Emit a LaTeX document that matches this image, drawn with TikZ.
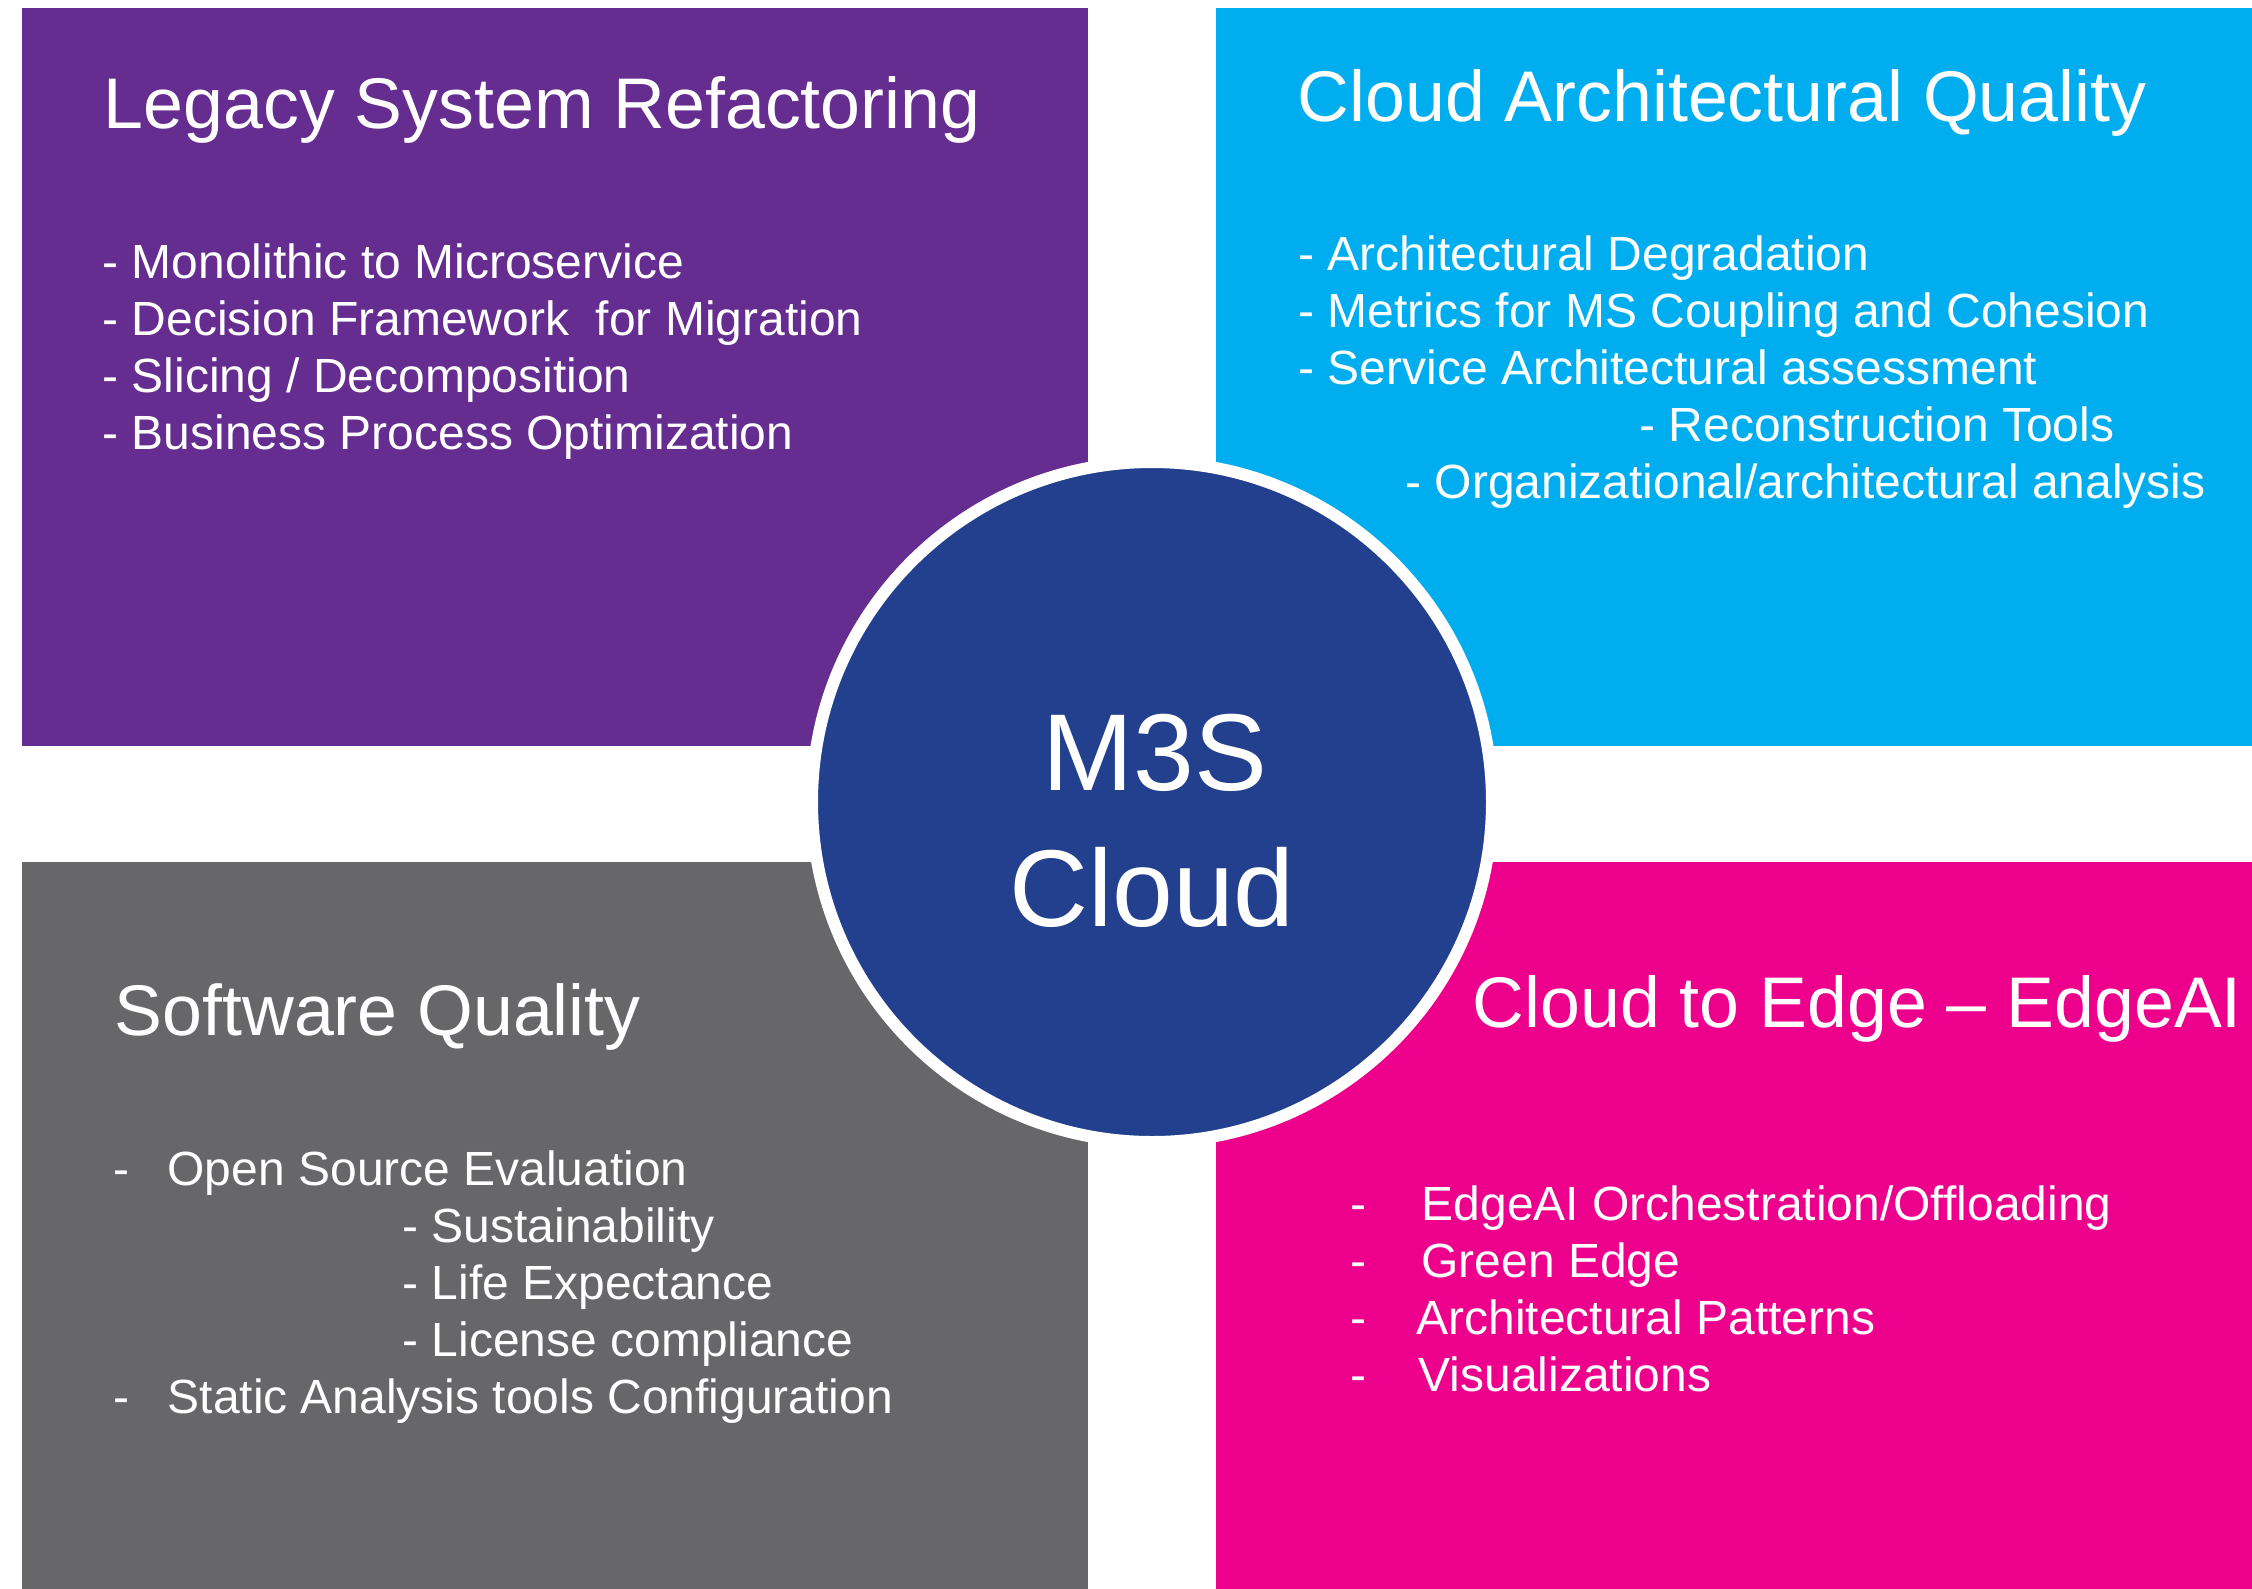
\documentclass[tikz,border=0pt]{standalone}
\usepackage{fontspec}
\setmainfont{Liberation Sans}
\usepackage{xcolor}
\usetikzlibrary{positioning}

\definecolor{legacyc}{RGB}{102,45,145}
\definecolor{archc}{RGB}{0,174,239}
\definecolor{qualc}{RGB}{103,103,105}
\definecolor{edgec}{RGB}{236,0,140}
\definecolor{hubc}{RGB}{35,64,142}

\begin{document}
\begin{tikzpicture}[
  x=0.1mm, y=-0.1mm,
  title/.style={anchor=base west,inner sep=0pt,text=white,font=\fontsize{20.4}{24}\selectfont},
  item/.style={anchor=base west,inner sep=0pt,text=white,font=\fontsize{13.65}{16.2}\selectfont},
  hub/.style={circle,fill=hubc,draw=white,line width=1.2mm,minimum size=68mm,inner sep=0pt},
  hubtxt/.style={anchor=base,inner sep=0pt,text=white,font=\fontsize{31.1}{37}\selectfont}
]
\useasboundingbox (0,0) rectangle (2252,1589);

% four quadrants
\fill[legacyc] (22,8) rectangle (1088,746);
\fill[archc] (1216,8) rectangle (2252,746);
\fill[qualc] (22,862) rectangle (1088,1589);
\fill[edgec] (1216,862) rectangle (2252,1589);

% top left
\node[title] (legacy) at (103,128) {Legacy System Refactoring};
\node[item] (leg1) at (102,278) {- Monolithic to Microservice};
\node[item] (leg2) at (102,335) {- Decision Framework \ for Migration};
\node[item] (leg3) at (102,392) {- Slicing / Decomposition};
\node[item] (leg4) at (102,449) {- Business Process Optimization};

% top right
\node[title] (arch) at (1297,121) {Cloud Architectural Quality};
\node[item] (arch1) at (1298,270) {- Architectural Degradation};
\node[item] (arch2) at (1298,327) {- Metrics for MS Coupling and Cohesion};
\node[item] (arch3) at (1298,384) {- Service Architectural assessment};
\node[item] (arch4) at (1639,441) {- Reconstruction Tools};
\node[item] (arch5) at (1405,498) {- Organizational/architectural analysis};

% bottom left
\node[title] (qual) at (114,1035) {Software Quality};
\node[item] (qual1) at (113,1185) {\makebox[5.4mm][l]{-}Open Source Evaluation};
\node[item] (qual2) at (402,1242) {- Sustainability};
\node[item] (qual3) at (402,1299) {- Life Expectance};
\node[item] (qual4) at (402,1356) {- License compliance};
\node[item] (qual5) at (113,1413) {\makebox[5.4mm][l]{-}Static Analysis tools Configuration};

% bottom right
\node[title] (edge) at (1472,1027) {Cloud to Edge -- EdgeAI};
\node[item] (edge1) at (1350,1220) {\makebox[7.1mm][l]{-}EdgeAI Orchestration/Offloading};
\node[item] (edge2) at (1350,1277) {\makebox[7.1mm][l]{-}Green Edge};
\node[item] (edge3) at (1350,1334) {\makebox[6.6mm][l]{-}Architectural Patterns};
\node[item] (edge4) at (1350,1391) {\makebox[6.8mm][l]{-}Visualizations};

% centre
\node[hub] (hub) at (1152,802) {};
\node[hubtxt] (m3s) at (1155,790) {M3S};
\node[hubtxt] (cloud) at (1152,926) {Cloud};
\end{tikzpicture}
\end{document}
